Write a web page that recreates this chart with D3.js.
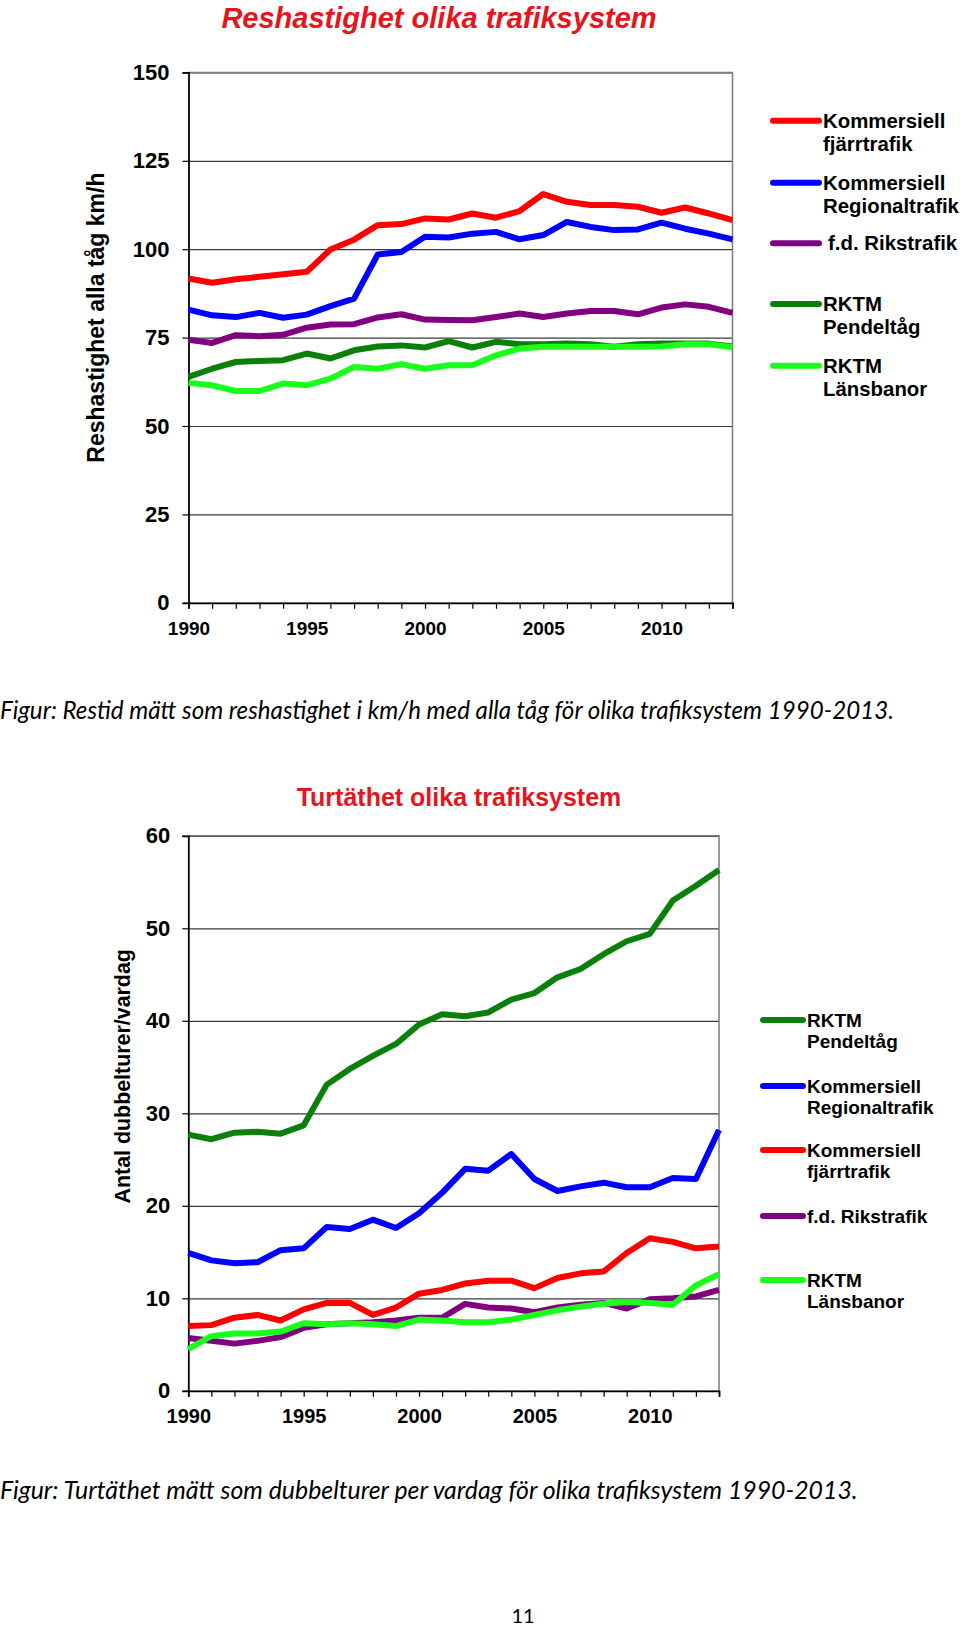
<!DOCTYPE html>
<html>
<head>
<meta charset="utf-8">
<script src="https://cdn.jsdelivr.net/npm/d3@7"></script>
<style>
  body { margin: 0; background: #fff; }
  svg { display: block; }
</style>
</head>
<body>
<div id="page"></div>
<script>
// years on the x axis (both charts)
var years = [1990, 1991, 1992, 1993, 1994, 1995, 1996, 1997, 1998, 1999, 2000, 2001,
             2002, 2003, 2004, 2005, 2006, 2007, 2008, 2009, 2010, 2011, 2012, 2013];

// Reshastighet km/h
var speedFjarr    = [91.7, 90.5, 91.5, 92.2, 92.9, 93.6, 99.9, 102.7, 106.8, 107.1, 108.7, 108.4,
                     110.1, 108.9, 110.8, 115.6, 113.4, 112.5, 112.5, 112.0, 110.3, 111.8, 110.1, 108.2];
var speedRegional = [82.9, 81.3, 80.8, 82.0, 80.6, 81.5, 83.9, 86.0, 98.5, 99.2, 103.5, 103.3,
                     104.4, 104.9, 102.8, 104.0, 107.7, 106.3, 105.4, 105.6, 107.5, 105.8, 104.4, 102.8];
var speedRiks     = [74.4, 73.5, 75.7, 75.4, 75.8, 77.8, 78.7, 78.8, 80.7, 81.6, 80.1, 80.0,
                     79.9, 80.8, 81.8, 80.8, 81.8, 82.5, 82.5, 81.6, 83.5, 84.4, 83.7, 82.0];
var speedPendel   = [63.9, 66.2, 68.1, 68.4, 68.6, 70.5, 69.1, 71.4, 72.5, 72.8, 72.2, 74.0,
                     72.2, 73.8, 73.1, 73.1, 73.3, 73.1, 72.4, 73.1, 73.3, 73.3, 73.3, 72.5];
var speedLans     = [62.2, 61.5, 59.9, 59.9, 62.0, 61.5, 63.4, 66.7, 66.2, 67.5, 66.2, 67.2,
                     67.2, 70.0, 71.9, 72.4, 72.4, 72.4, 72.4, 72.4, 72.5, 73.1, 73.1, 72.3];

// Turtäthet dubbelturer/vardag
var tripsPendel   = [27.7, 27.2, 27.9, 28.0, 27.8, 28.7, 33.1, 34.8, 36.2, 37.5, 39.6, 40.7,
                     40.5, 40.9, 42.3, 43.0, 44.7, 45.6, 47.2, 48.6, 49.4, 53.0, 54.6, 56.3];
var tripsRegional = [14.9, 14.1, 13.8, 13.9, 15.2, 15.4, 17.7, 17.5, 18.5, 17.6, 19.2, 21.4,
                     24.0, 23.8, 25.6, 22.9, 21.6, 22.1, 22.5, 22.0, 22.0, 23.0, 22.9, 28.2];
var tripsFjarr    = [7.0, 7.1, 7.9, 8.2, 7.6, 8.8, 9.5, 9.5, 8.2, 9.0, 10.5, 10.9,
                     11.6, 11.9, 11.9, 11.1, 12.2, 12.7, 12.9, 14.9, 16.5, 16.1, 15.4, 15.6];
var tripsRiks     = [5.7, 5.4, 5.1, 5.4, 5.8, 6.8, 7.2, 7.3, 7.4, 7.6, 7.9, 7.9,
                     9.4, 9.0, 8.9, 8.5, 9.0, 9.3, 9.5, 8.9, 9.9, 10.0, 10.2, 10.9];
var tripsLans     = [4.5, 5.9, 6.2, 6.2, 6.4, 7.3, 7.2, 7.3, 7.2, 7.0, 7.7, 7.6,
                     7.4, 7.4, 7.7, 8.2, 8.7, 9.1, 9.4, 9.6, 9.5, 9.3, 11.4, 12.6];

var speedTicks = [0, 25, 50, 75, 100, 125, 150];
var tripTicks = [0, 10, 20, 30, 40, 50, 60];

var RED = "#ff0000", BLUE = "#0000ff", PURPLE = "#800080", DKGREEN = "#0a800a", LTGREEN = "#19ff19";

var svg = d3.select("#page").append("svg")
  .attr("width", 960)
  .attr("height", 1627);

function drawChart(c) {
  var width = c.right - c.left;
  var height = c.bottom - c.top;

  var g = svg.append("g")
    .attr("transform", `translate(${c.left}, ${c.top})`);

  var x = d3.scaleLinear().domain([1990, 2013]).range([0, width]);
  var y = d3.scaleLinear().domain([0, d3.max(c.yTicks)]).range([height, 0]);

  // gridlines
  g.append("g")
    .call(d3.axisLeft(y).tickValues(c.yTicks).tickSize(-width).tickFormat(""))
    .call(s => s.select(".domain").remove())
    .selectAll("line").attr("stroke", "#3a3a3a").attr("stroke-width", 1.2);

  // plot frame top / right
  g.append("path")
    .attr("d", `M0,0H${width}V${height}`)
    .attr("fill", "none")
    .attr("stroke", "#7a7a7a")
    .attr("stroke-width", 1.5);

  // y axis
  var yAxis = g.append("g")
    .call(d3.axisLeft(y).tickValues(c.yTicks).tickSize(6).tickPadding(c.yPad));
  yAxis.selectAll("text")
    .attr("font-family", "Liberation Sans, Arial, sans-serif")
    .attr("font-weight", "bold")
    .attr("font-size", c.yFont + "px")
    .attr("fill", "#000");

  // x axis
  var xAxis = g.append("g")
    .attr("transform", `translate(0, ${height})`)
    .call(d3.axisBottom(x).tickValues(years).tickSize(6).tickPadding(c.xPad)
      .tickFormat(d => d % 5 === 0 ? d : ""));
  xAxis.selectAll("text")
    .attr("font-family", "Liberation Sans, Arial, sans-serif")
    .attr("font-weight", "bold")
    .attr("font-size", c.xFont + "px")
    .attr("fill", "#000");

  [yAxis, xAxis].forEach(function(a) {
    a.select(".domain").attr("stroke", "#000").attr("stroke-width", 1.8);
    a.selectAll(".tick line").attr("stroke", "#000").attr("stroke-width", 1.2);
  });

  // lines
  var line = d3.line()
    .x((d, i) => x(years[i]))
    .y(d => y(d));

  c.series.forEach(function(s) {
    g.append("path")
      .datum(s.values)
      .attr("d", line)
      .attr("fill", "none")
      .attr("stroke", s.color)
      .attr("stroke-width", 6)
      .attr("stroke-linejoin", "round")
      .attr("stroke-linecap", "butt");
  });

  // title
  svg.append("text")
    .attr("x", c.titleX)
    .attr("y", c.titleY)
    .attr("text-anchor", "middle")
    .attr("font-family", "Liberation Sans, Arial, sans-serif")
    .attr("font-weight", "bold")
    .attr("font-style", c.titleItalic ? "italic" : "normal")
    .attr("font-size", c.titleFont + "px")
    .attr("fill", "#e8141c")
    .text(c.title);

  // y label
  svg.append("text")
    .attr("transform", `translate(${c.yLabelX}, ${c.top + height / 2 + c.yLabelShift}) rotate(-90)`)
    .attr("text-anchor", "middle")
    .attr("font-family", "Liberation Sans, Arial, sans-serif")
    .attr("font-weight", "bold")
    .attr("font-size", c.yLabelFont + "px")
    .attr("fill", "#000")
    .text(c.yLabel);

  // legend
  c.series.forEach(function(s) {
    var lg = svg.append("g").attr("transform", `translate(${c.legX}, ${s.legY})`);
    lg.append("line")
      .attr("x1", 0).attr("x2", c.legLine)
      .attr("y1", 0).attr("y2", 0)
      .attr("stroke", s.color)
      .attr("stroke-width", 6)
      .attr("stroke-linecap", "round");
    var t = lg.append("text")
      .attr("x", c.legLine + 4)
      .attr("y", 7)
      .attr("font-family", "Liberation Sans, Arial, sans-serif")
      .attr("font-weight", "bold")
      .attr("font-size", c.legFont + "px")
      .attr("fill", "#000");
    s.name.forEach(function(n, i) {
      t.append("tspan")
        .attr("x", c.legLine + 4 + (s.indent || 0))
        .attr("dy", i === 0 ? 0 : c.legFont * 1.12)
        .text(n);
    });
  });
}

drawChart({
  left: 188.5, right: 732.5, top: 72.4, bottom: 602.8,
  yTicks: speedTicks, yFont: 22, xFont: 19, yPad: 13, xPad: 13,
  title: "Reshastighet olika trafiksystem", titleX: 439, titleY: 28, titleFont: 29, titleItalic: true,
  yLabel: "Reshastighet  alla tåg km/h", yLabelX: 104, yLabelShift: -20, yLabelFont: 23,
  legX: 773, legLine: 46, legFont: 20.4,
  series: [
    { name: ["Kommersiell", "fjärrtrafik"], values: speedFjarr, color: RED, legY: 120.7 },
    { name: ["Kommersiell", "Regionaltrafik"], values: speedRegional, color: BLUE, legY: 182.7 },
    { name: ["f.d. Rikstrafik"], values: speedRiks, color: PURPLE, legY: 243.3, indent: 5 },
    { name: ["RKTM", "Pendeltåg"], values: speedPendel, color: DKGREEN, legY: 304 },
    { name: ["RKTM", "Länsbanor"], values: speedLans, color: LTGREEN, legY: 365.7 }
  ]
});

drawChart({
  left: 188.3, right: 719, top: 835.8, bottom: 1390.8,
  yTicks: tripTicks, yFont: 22, xFont: 20, yPad: 12, xPad: 12,
  title: "Turtäthet olika trafiksystem", titleX: 459, titleY: 806, titleFont: 25, titleItalic: false,
  yLabel: "Antal dubbelturer/vardag", yLabelX: 130, yLabelShift: -37, yLabelFont: 21.4,
  legX: 763, legLine: 40, legFont: 19,
  series: [
    { name: ["RKTM", "Pendeltåg"], values: tripsPendel, color: DKGREEN, legY: 1020 },
    { name: ["Kommersiell", "Regionaltrafik"], values: tripsRegional, color: BLUE, legY: 1086 },
    { name: ["Kommersiell", "fjärrtrafik"], values: tripsFjarr, color: RED, legY: 1150 },
    { name: ["f.d. Rikstrafik"], values: tripsRiks, color: PURPLE, legY: 1216 },
    { name: ["RKTM", "Länsbanor"], values: tripsLans, color: LTGREEN, legY: 1280 }
  ]
});

// captions, fitted to the width they take in the scanned page
function caption(txt, yPos, targetW) {
  var t = svg.append("text")
    .attr("x", 0)
    .attr("y", yPos)
    .attr("font-family", "Lato, 'Open Sans', sans-serif")
    .attr("font-style", "italic")
    .attr("font-size", "20px")
    .attr("fill", "#000")
    .text(txt);
  var w = t.node().getComputedTextLength();
  t.attr("font-size", (20 * targetW / w).toFixed(2) + "px");
}
caption("Figur: Restid mätt som reshastighet i km/h med alla tåg för olika trafiksystem 1990-2013.", 719, 894);
caption("Figur: Turtäthet mätt som dubbelturer per vardag för olika trafiksystem 1990-2013.", 1499, 858);

svg.append("text")
  .attr("x", 523)
  .attr("y", 1623)
  .attr("text-anchor", "middle")
  .attr("font-family", "Lato, sans-serif")
  .attr("font-size", "20px")
  .attr("fill", "#000")
  .text("11");
</script>
</body>
</html>
